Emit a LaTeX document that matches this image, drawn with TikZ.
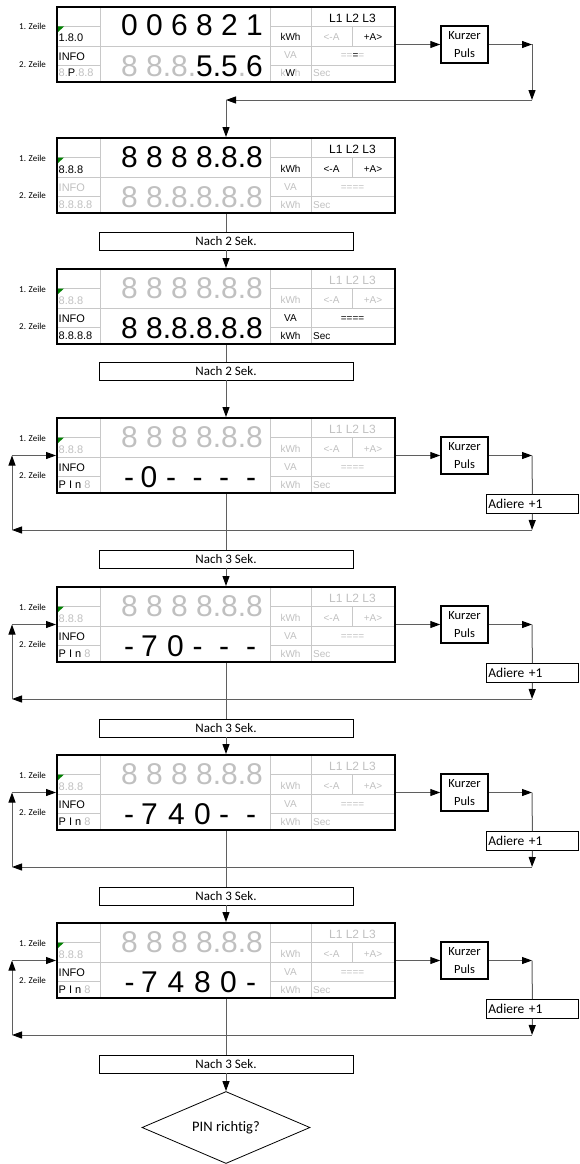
\documentclass[tikz,border=0pt]{standalone}
\usepackage{fontspec}
\setmainfont{Liberation Sans}
\newfontfamily\lab[Ligatures=NoCommon]{Carlito}
\usetikzlibrary{arrows.meta,shapes.geometric}
\definecolor{lg}{RGB}{192,192,192}
\definecolor{gridc}{RGB}{200,200,200}
\definecolor{conn}{RGB}{95,95,95}
\definecolor{greenm}{RGB}{0,128,0}
\newcommand\gry[1]{{\color{lg}#1}}
\tikzset{
 dispbox/.style={draw=black, line width=2pt, minimum width=338pt, minimum height=75pt, inner sep=0pt},
 gridl/.style={draw=gridc, line width=0.8pt},
 smalltxt/.style={font=\fontsize{11}{13}\selectfont, inner sep=0pt, anchor=base west},
 unittxt/.style={font=\fontsize{10}{12}\selectfont, inner sep=0pt, anchor=base},
 ltxt/.style={font=\fontsize{12}{14}\selectfont, inner sep=0pt, anchor=base},
 bigdig/.style={font=\fontsize{30}{34}\selectfont, inner sep=0pt, anchor=base},
 zeile/.style={font=\lab\fontsize{9}{11}\selectfont, inner sep=0pt, anchor=base west},
 pulsbox/.style={draw=black, line width=1.5pt, minimum width=47pt, minimum height=37pt, inner sep=0pt, align=center, font=\lab\fontsize{12.5}{18}\selectfont},
 addbox/.style={draw=black, line width=0.8pt, minimum width=92pt, minimum height=19pt, text width=88pt, inner sep=2pt, align=left, anchor=north west, font=\lab\fontsize{13.5}{15}\selectfont},
 nachbox/.style={draw=black, line width=0.8pt, minimum width=254pt, minimum height=18pt, inner sep=0pt, font=\lab\fontsize{13}{15}\selectfont},
 conline/.style={draw=conn, line width=1pt},
 arr/.style={conline, -{Triangle[length=10pt,width=7pt,color=black]}},
 decision/.style={diamond, draw=black, line width=0.8pt, minimum width=168pt, minimum height=72pt, aspect=2.33, inner sep=0pt, font=\lab\fontsize{14.5}{16}\selectfont},
}
\newcommand\dispgrid[1]{%
 \draw[gridl] (57,19) -- (100,19) (270,19) -- (395,19);
 \draw[gridl] (57,39) -- (395,39);
 \draw[gridl] (57,58) -- (100,58) (270,58) -- (395,58);
 \draw[gridl] (100,0) -- (100,75) (270,0) -- (270,75) (311,0) -- (311,75) (352,19) -- (352,39);
 \fill[greenm] (58,19.5) -- (64,19.5) -- (58,25) -- cycle;
 \node[dispbox] (#1) at (226,37.5) {};
 \node[zeile] (#1z1) at (19,23) {1. Zeile};
 \node[zeile] (#1z2) at (19,60) {2. Zeile};
}
\newcommand\dleft[5]{%
 \node[smalltxt] (#1a) at (58.5,35) {#2};
 \node[smalltxt] (#1b) at (58.5,53) {#3};
 \node[smalltxt] (#1c) at (58.5,70) {#4};
 \node[bigdig] (#1d) at (192,29) {#5};
}
\newcommand\dright[9]{%
 \node[unittxt] (#1u1) at (290.5,34) {#2};
 \node[unittxt] (#1u2) at (290.5,52) {#3};
 \node[unittxt] (#1u3) at (290.5,70) {#4};
 \node[ltxt] (#1L) at (352.5,15.5) {#5};
 \node[unittxt] (#1m) at (331.5,34) {#6};
 \node[unittxt] (#1p) at (373,34) {#7};
 \node[unittxt] (#1q) at (352.5,52) {#8};
 \node[unittxt, anchor=base west] (#1s) at (313,70) {#9};
}
\newcommand\drightgray[1]{\dright{#1}{\gry{kWh}}{\gry{VA}}{\gry{kWh}}{\gry{L1 L2 L3}}{\gry{<-A}}{\gry{+A>}}{\gry{====}}{\gry{Sec}}}
\newcommand\pinrow[2]{\foreach \pxx/\pcc [count=\pkk] in {#2} {\node[bigdig] (#1\pkk) at (\pxx,69) {\pcc};}}
\newcommand\pinloop[1]{%
 \node[pulsbox] (k#1) at (464.5,37.5) {Kurzer\\Puls};
 \node[addbox] (a#1) at (486,76) {Adiere +1};
 \coordinate (c#1a) at (532,37.5);
 \coordinate (c#1b) at (532,112);
 \coordinate (c#1c) at (12,112);
 \coordinate (c#1d) at (12,37.5);
 \draw[arr] (d#1.east) -- (k#1.west);
 \draw[arr] (k#1.east) -- (c#1a);
 \draw[conline] (c#1a) -- (a#1.north);
 \draw[arr] (a#1.south) -- (c#1b);
 \draw[arr] (c#1b) -- (c#1c);
 \draw[arr] (c#1c) -- (c#1d);
 \draw[arr] (c#1d) -- (d#1.west);
}
\begin{document}
\begin{tikzpicture}[x=1pt,y=-1pt]
\useasboundingbox (0,0) rectangle (579,1164);
% display 1
\begin{scope}[shift={(0,7)}]
\dispgrid{d1}
\dleft{d1}{1.8.0}{INFO}{\gry{8.}P\gry{.8.8}}{0 0 6 8 2 1}
\node[bigdig] (d1e) at (192,69) {\gry{8 8.8.}5.5\gry{.}6};
\dright{d1}{kWh}{\gry{VA}}{\gry{k}W\gry{h}}{L1 L2 L3}{\gry{<-A}}{+A>}{\gry{==}=\gry{=}}{\gry{Sec}}
\node[pulsbox] (k1) at (464.5,37.5) {Kurzer\\Puls};
\coordinate (c1a) at (532,37.5);
\coordinate (c1b) at (532,93);
\coordinate (c1c) at (226,93);
\end{scope}
% display 2
\begin{scope}[shift={(0,138)}]
\dispgrid{d2}
\dleft{d2}{8.8.8}{\gry{INFO}}{\gry{8.8.8.8}}{8 8 8 8.8.8}
\node[bigdig] (d2e) at (192,69) {\gry{8 8.8.8.8.8}};
\dright{d2}{kWh}{\gry{VA}}{\gry{kWh}}{L1 L2 L3}{<-A}{+A>}{\gry{====}}{\gry{Sec}}
\end{scope}
% display 3
\begin{scope}[shift={(0,269)}]
\dispgrid{d3}
\dleft{d3}{\gry{8.8.8}}{INFO}{8.8.8.8}{\gry{8 8 8 8.8.8}}
\node[bigdig] (d3e) at (192,69) {8 8.8.8.8.8};
\dright{d3}{\gry{kWh}}{VA}{kWh}{\gry{L1 L2 L3}}{\gry{<-A}}{\gry{+A>}}{====}{Sec}
\end{scope}
% display 4
\begin{scope}[shift={(0,418)}]
\dispgrid{d4}
\dleft{d4}{\gry{8.8.8}}{INFO}{P I n \gry{8}}{\gry{8 8 8 8.8.8}}
\pinrow{d4e}{129/-,149/0,171/-,197.5/-,224/-,251/-}
\drightgray{d4}
\pinloop{4}
\end{scope}
% display 5
\begin{scope}[shift={(0,587)}]
\dispgrid{d5}
\dleft{d5}{\gry{8.8.8}}{INFO}{P I n \gry{8}}{\gry{8 8 8 8.8.8}}
\pinrow{d5e}{129/-,149.5/7,175.5/0,197.5/-,224/-,251/-}
\drightgray{d5}
\pinloop{5}
\end{scope}
% display 6
\begin{scope}[shift={(0,755)}]
\dispgrid{d6}
\dleft{d6}{\gry{8.8.8}}{INFO}{P I n \gry{8}}{\gry{8 8 8 8.8.8}}
\pinrow{d6e}{129/-,149.5/7,176.5/4,202.5/0,224/-,251/-}
\drightgray{d6}
\pinloop{6}
\end{scope}
% display 7
\begin{scope}[shift={(0,923)}]
\dispgrid{d7}
\dleft{d7}{\gry{8.8.8}}{INFO}{P I n \gry{8}}{\gry{8 8 8 8.8.8}}
\pinrow{d7e}{129.5/-,149.5/7,176/4,202.5/8,228.5/0,251/-}
\drightgray{d7}
\pinloop{7}
\end{scope}
% wait boxes
\node[nachbox] (n2) at (226,241) {Nach 2 Sek.};
\node[nachbox] (n3) at (226,371) {Nach 2 Sek.};
\node[nachbox] (n4) at (226,559) {Nach 3 Sek.};
\node[nachbox] (n5) at (226,728) {Nach 3 Sek.};
\node[nachbox] (n6) at (226,896) {Nach 3 Sek.};
\node[nachbox] (n7) at (226,1064) {Nach 3 Sek.};
\node[decision] (pin) at (226,1127.5) {PIN richtig?};
% connectors
\draw[arr] (d1.east) -- (k1.west);
\draw[arr] (k1.east) -- (c1a);
\draw[arr] (c1a) -- (c1b);
\draw[arr] (c1b) -- (c1c);
\draw[arr] (c1c) -- (d2.north);
\draw[conline] (d2.south) -- (n2.north);
\draw[arr] (n2.south) -- (d3.north);
\draw[conline] (d3.south) -- (n3.north);
\draw[arr] (n3.south) -- (d4.north);
\draw[conline] (d4.south) -- (n4.north);
\draw[arr] (n4.south) -- (d5.north);
\draw[conline] (d5.south) -- (n5.north);
\draw[arr] (n5.south) -- (d6.north);
\draw[conline] (d6.south) -- (n6.north);
\draw[arr] (n6.south) -- (d7.north);
\draw[conline] (d7.south) -- (n7.north);
\draw[arr] (n7.south) -- (pin.north);
\end{tikzpicture}
\end{document}
